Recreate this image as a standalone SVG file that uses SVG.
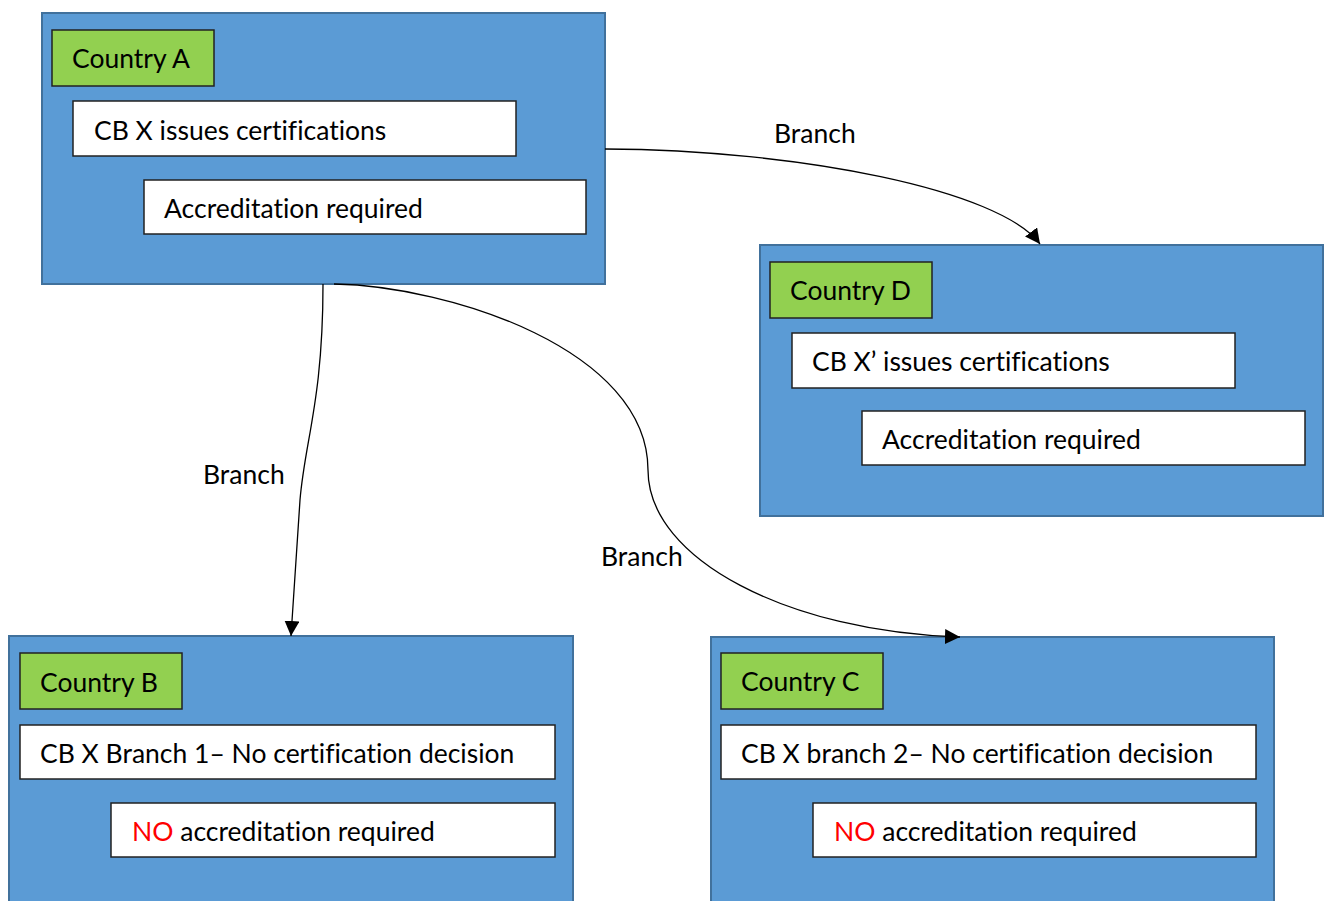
<svg xmlns="http://www.w3.org/2000/svg" width="1328" height="901" viewBox="0 0 1328 901">
<style>
.outer{fill:#5B9BD5;stroke:#41719C;stroke-width:2}
.tag{fill:#92D050;stroke:#222;stroke-width:1.5}
.box{fill:#fff;stroke:#222;stroke-width:1.5}
text{font-family:Lato,"Open Sans","Liberation Sans",sans-serif;font-size:26.5px;fill:#000;font-variant-ligatures:none}
.red{fill:#FF0000}
.conn{fill:none;stroke:#000;stroke-width:1.3}
</style>
<defs>
<marker id="arr" viewBox="0 0 10 10" refX="10" refY="5" markerWidth="15" markerHeight="15" markerUnits="userSpaceOnUse" orient="auto">
<path d="M0,0 L10,5 L0,10 z" fill="#000"/>
</marker>
</defs>
<rect width="1328" height="901" fill="#fff"/>
<g id="countryA">
<rect class="outer" x="42" y="13" width="563" height="271"/>
<rect class="tag" x="52" y="30" width="162" height="56"/>
<text x="72" y="68">Country A</text>
<rect class="box" x="73" y="101" width="443" height="55"/>
<text x="94" y="140">CB X issues certifications</text>
<rect class="box" x="144" y="180" width="442" height="54"/>
<text x="164" y="218">Accreditation required</text>
</g>
<g id="countryD">
<rect class="outer" x="760" y="245" width="563" height="271"/>
<rect class="tag" x="770" y="262" width="162" height="56"/>
<text x="790" y="300">Country D</text>
<rect class="box" x="792" y="333" width="443" height="55"/>
<text x="812" y="371">CB X’ issues certifications</text>
<rect class="box" x="862" y="411" width="443" height="54"/>
<text x="882" y="449">Accreditation required</text>
</g>
<g id="countryB">
<rect class="outer" x="9" y="636" width="564" height="275"/>
<rect class="tag" x="20" y="653" width="162" height="56"/>
<text x="40" y="692">Country B</text>
<rect class="box" x="20" y="725" width="535" height="54"/>
<text x="40" y="763">CB X Branch 1– No certification decision</text>
<rect class="box" x="111" y="803" width="444" height="54"/>
<text x="132" y="841"><tspan class="red">NO</tspan> accreditation required</text>
</g>
<g id="countryC">
<rect class="outer" x="711" y="637" width="563" height="274"/>
<rect class="tag" x="721" y="653" width="162" height="56"/>
<text x="741" y="691">Country C</text>
<rect class="box" x="721" y="725" width="535" height="54"/>
<text x="741" y="763">CB X branch 2– No certification decision</text>
<rect class="box" x="813" y="803" width="443" height="54"/>
<text x="834" y="841"><tspan class="red">NO</tspan> accreditation required</text>
</g>
<g id="connectors">
<path class="conn" d="M605,149 C800,150 1000,190 1040,244" marker-end="url(#arr)"/>
<text x="774" y="143">Branch</text>
<path class="conn" d="M323,284 C323,400 305,440 300,500 L291,636" marker-end="url(#arr)"/>
<text x="203" y="484">Branch</text>
<path class="conn" d="M334,284 C450,286 648,350 648,470 C648,560 790,632 960,637" marker-end="url(#arr)"/>
<text x="601" y="566">Branch</text>
</g>
</svg>
